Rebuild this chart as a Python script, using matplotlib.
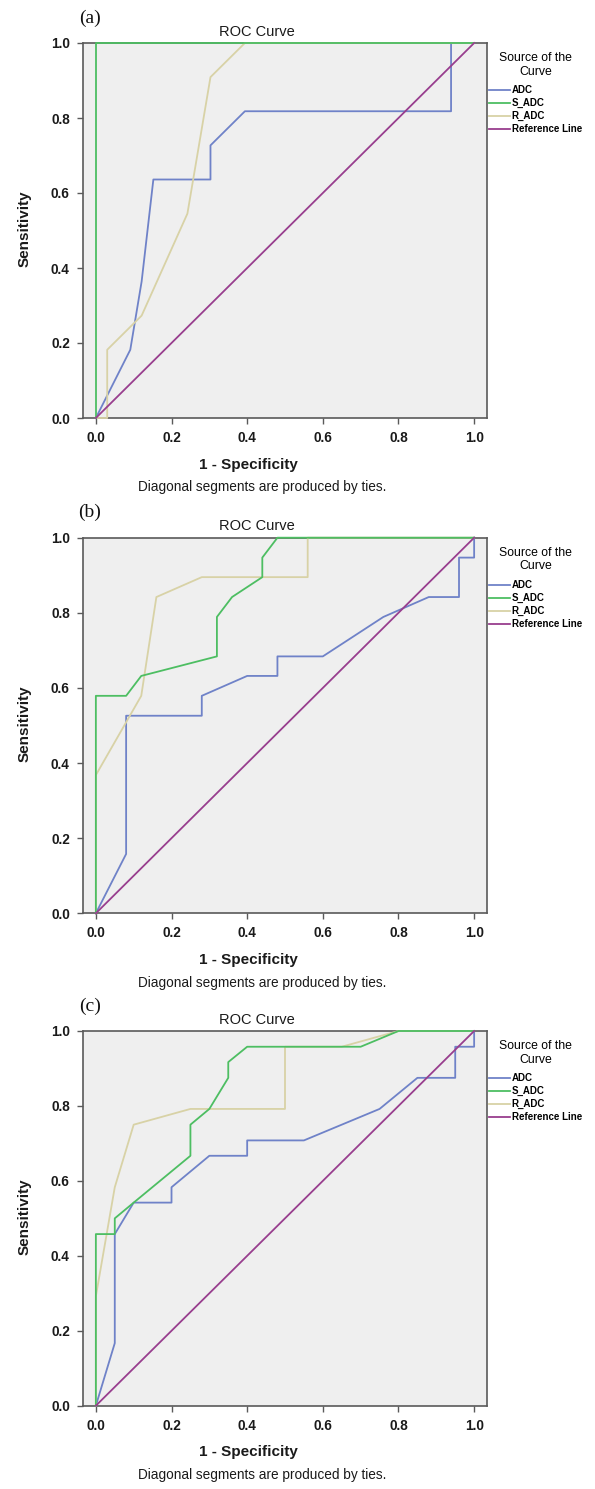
import matplotlib
matplotlib.use("Agg")
import matplotlib.pyplot as plt

plt.rcParams['font.family'] = ['Liberation Sans', 'DejaVu Sans']

W, H = 595, 1489

# ---------------- data ----------------
panel_labels = ["(a)", "(b)", "(c)"]
series_names = ["ADC", "S_ADC", "R_ADC", "Reference Line"]
tick_values = [0.0, 0.2, 0.4, 0.6, 0.8, 1.0]
tick_labels = ["0.0", "0.2", "0.4", "0.6", "0.8", "1.0"]

adc_a_x = [0, 0.091, 0.121, 0.152, 0.303, 0.303, 0.394, 0.939, 0.939, 1.0]
adc_a_y = [0, 0.182, 0.364, 0.636, 0.636, 0.727, 0.818, 0.818, 1.0, 1.0]
s_adc_a_x = [0, 0, 1.0]
s_adc_a_y = [0, 1.0, 1.0]
r_adc_a_x = [0, 0.030, 0.030, 0.121, 0.242, 0.303, 0.394, 1.0]
r_adc_a_y = [0, 0, 0.182, 0.273, 0.545, 0.909, 1.0, 1.0]

adc_b_x = [0, 0.08, 0.08, 0.28, 0.28, 0.40, 0.48, 0.48, 0.60, 0.76, 0.88, 0.96, 0.96, 1.0, 1.0]
adc_b_y = [0, 0.158, 0.526, 0.526, 0.579, 0.632, 0.632, 0.684, 0.684, 0.789, 0.842, 0.842, 0.947, 0.947, 1.0]
s_adc_b_x = [0, 0, 0.08, 0.12, 0.32, 0.32, 0.36, 0.44, 0.44, 0.48, 1.0]
s_adc_b_y = [0, 0.579, 0.579, 0.632, 0.684, 0.789, 0.842, 0.895, 0.947, 1.0, 1.0]
r_adc_b_x = [0, 0, 0.12, 0.16, 0.28, 0.56, 0.56, 1.0]
r_adc_b_y = [0, 0.368, 0.579, 0.842, 0.895, 0.895, 1.0, 1.0]

adc_c_x = [0, 0.05, 0.05, 0.10, 0.20, 0.20, 0.30, 0.40, 0.40, 0.55, 0.75, 0.85, 0.95, 0.95, 1.0, 1.0]
adc_c_y = [0, 0.167, 0.458, 0.542, 0.542, 0.583, 0.667, 0.667, 0.708, 0.708, 0.792, 0.875, 0.875, 0.958, 0.958, 1.0]
s_adc_c_x = [0, 0, 0.05, 0.05, 0.10, 0.25, 0.25, 0.30, 0.35, 0.35, 0.40, 0.70, 0.80, 1.0]
s_adc_c_y = [0, 0.458, 0.458, 0.500, 0.542, 0.667, 0.750, 0.792, 0.875, 0.917, 0.958, 0.958, 1.0, 1.0]
r_adc_c_x = [0, 0, 0.05, 0.10, 0.25, 0.50, 0.50, 0.65, 0.80, 1.0]
r_adc_c_y = [0, 0.292, 0.583, 0.750, 0.792, 0.792, 0.958, 0.958, 1.0, 1.0]

ref_x = [0, 1.0]
ref_y = [0, 1.0]

panels = [
    (adc_a_x, adc_a_y, s_adc_a_x, s_adc_a_y, r_adc_a_x, r_adc_a_y),
    (adc_b_x, adc_b_y, s_adc_b_x, s_adc_b_y, r_adc_b_x, r_adc_b_y),
    (adc_c_x, adc_c_y, s_adc_c_x, s_adc_c_y, r_adc_c_x, r_adc_c_y),
]

# ---------------- style ----------------
colors = ["#6F82C8", "#4DBE62", "#D8D2A6", "#983E8E"]
bg = "#EFEFEF"
frame = "#5A5A5A"

# axes pixel boxes (top, bottom) for each panel
tops = [43.0, 537.7, 1031.0]
bottoms = [418.0, 913.3, 1405.7]
left_px, right_px = 83.0, 487.0

def fx(px):
    return px / W

def fy(py):
    return 1 - py / H

fig = plt.figure(figsize=(W / 100, H / 100), dpi=100)
fig.patch.set_facecolor("white")

for i, (ax_x, ax_y, sx, sy, rx, ry) in enumerate(panels):
    top, bot = tops[i], bottoms[i]
    ax = fig.add_axes([fx(left_px), fy(bot), (right_px - left_px) / W, (bot - top) / H])
    ax.set_facecolor(bg)
    ax.set_xlim(-0.034, 1.034)
    ax.set_ylim(0, 1.0)
    lw = 1.3
    ax.plot(ax_x, ax_y, color=colors[0], lw=lw, label=series_names[0], clip_on=False, zorder=3)
    ax.plot(sx, sy, color=colors[1], lw=lw, label=series_names[1], clip_on=False, zorder=4)
    ax.plot(rx, ry, color=colors[2], lw=lw, label=series_names[2], clip_on=False, zorder=3.5)
    ax.plot(ref_x, ref_y, color=colors[3], lw=lw, label=series_names[3], clip_on=False, zorder=5)

    ax.set_xticks(tick_values)
    ax.set_xticklabels(tick_labels)
    ax.set_yticks(tick_values)
    ax.set_yticklabels(tick_labels)
    for sp in ax.spines.values():
        sp.set_color(frame)
        sp.set_linewidth(1.2)
    ax.tick_params(direction="out", length=4.5, width=1.0, color=frame,
                   labelsize=9.8, pad=5, labelcolor="#1A1A1A")
    for lab in ax.get_xticklabels() + ax.get_yticklabels():
        lab.set_fontweight("bold")

    leg = ax.legend(loc="upper left",
                    bbox_to_anchor=(fx(489), fy(top + 9)),
                    bbox_transform=fig.transFigure,
                    frameon=False, title="Source of the\nCurve",
                    prop={"size": 7, "weight": "bold"}, title_fontsize=8.8,
                    handlelength=2.2, handletextpad=0.15, labelspacing=0.3,
                    borderpad=0, borderaxespad=0)
    leg.get_title().set_multialignment("center")
    leg._legend_box.sep = 5.5

    # title
    fig.text(fx(257), fy(top - 11.5), "ROC Curve", ha="center", va="center",
             fontsize=10.5, color="#1A1A1A")
    # panel label
    fig.text(fx(90), fy(top - 25), panel_labels[i], ha="center", va="center",
             fontsize=14, family=["Liberation Serif", "DejaVu Serif"], color="#111111")
    # axis labels
    fig.text(fx(248), fy(bot + 46.5), "1 - Specificity", ha="center", va="center",
             fontsize=11, fontweight="bold", color="#1A1A1A")
    fig.text(fx(25), fy((top + bot) / 2 - 2), "Sensitivity", ha="center", va="center",
             rotation=90, fontsize=11, fontweight="bold", color="#1A1A1A")
    fig.text(fx(262), fy(bot + 69.5), "Diagonal segments are produced by ties.",
             ha="center", va="center", fontsize=9.8, color="#1A1A1A")

fig.savefig("out.png", dpi=100, facecolor="white")
